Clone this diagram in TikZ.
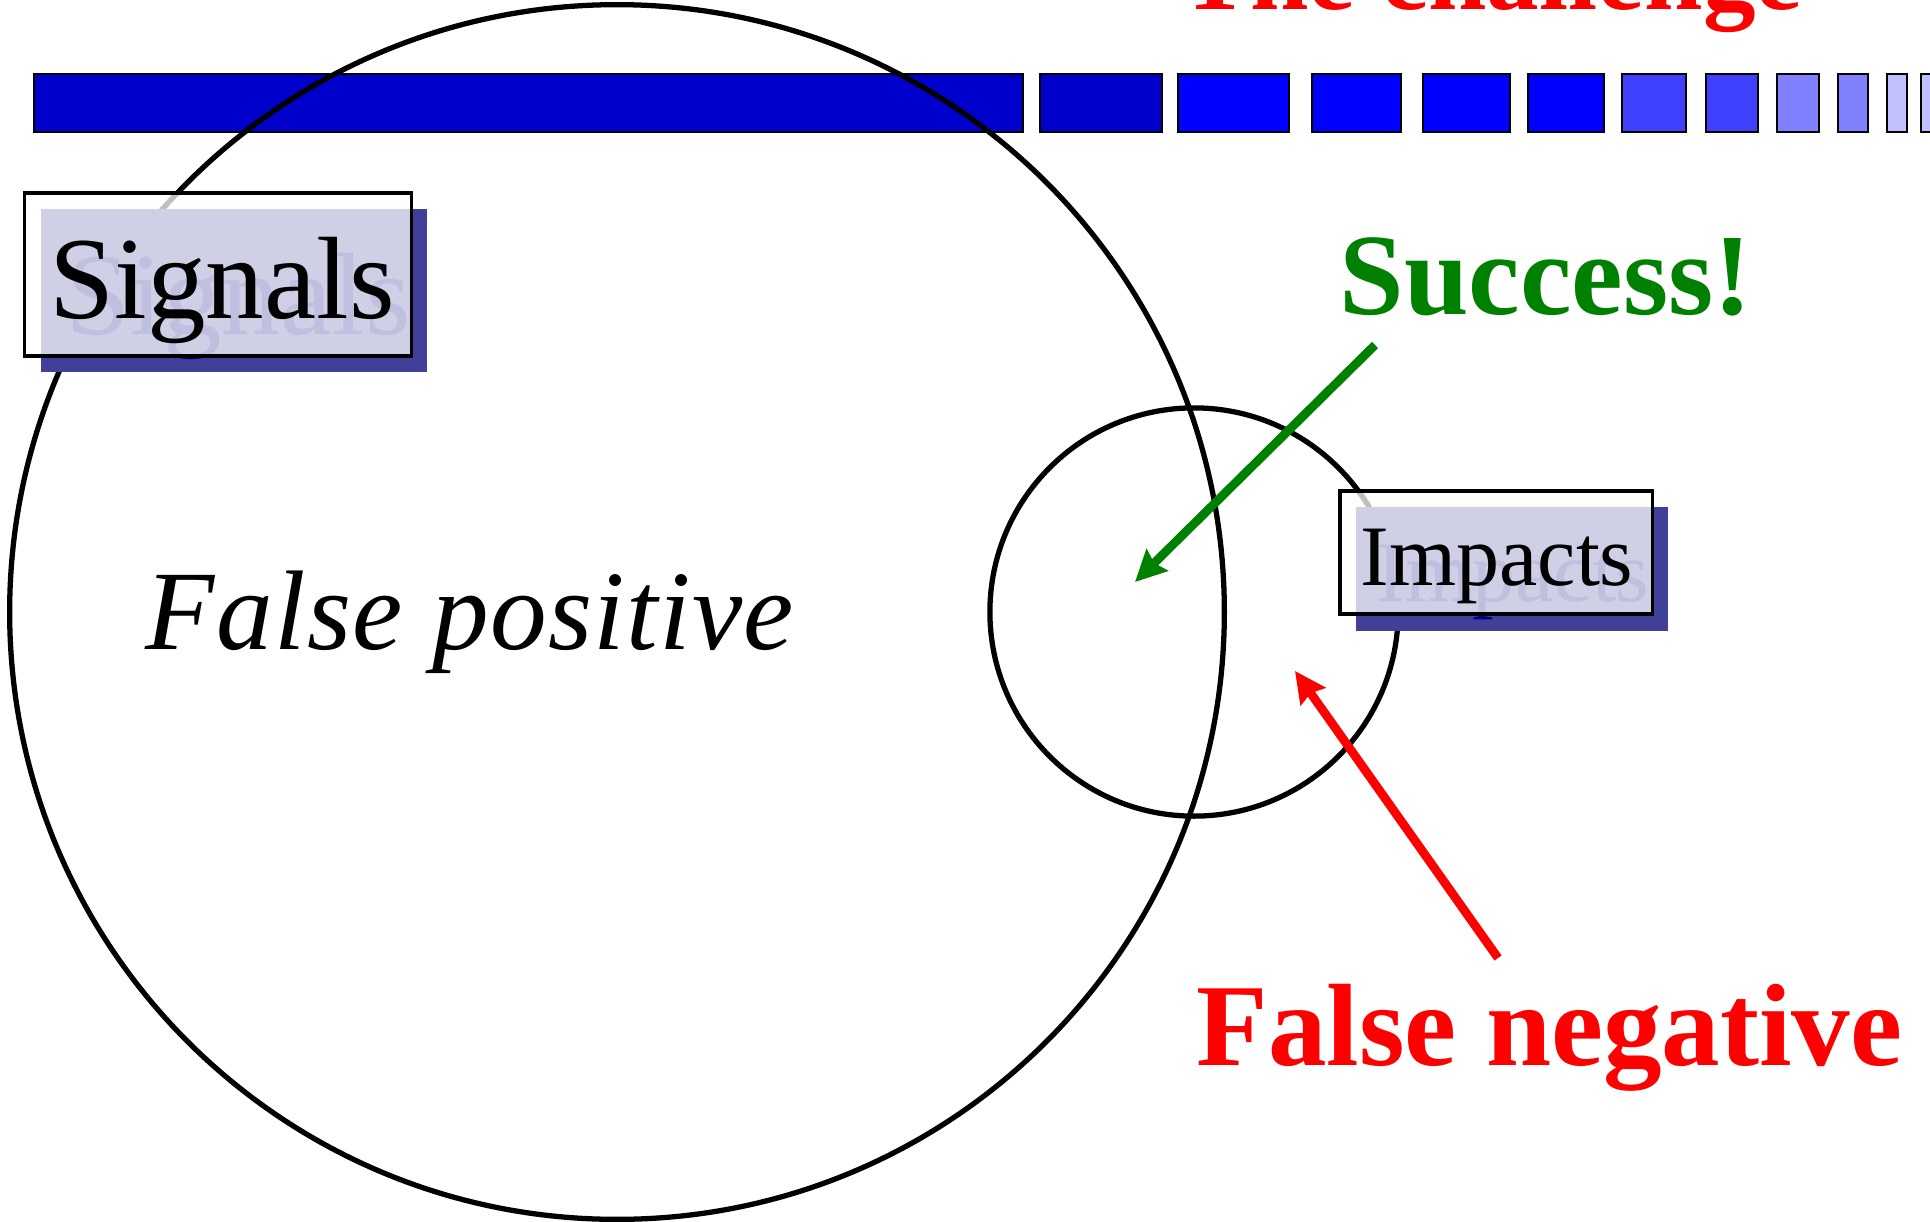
\documentclass[tikz,border=0pt]{standalone}
\usepackage{fontspec}
\setmainfont{Liberation Serif}
\definecolor{bardark}{RGB}{0,0,204}
\definecolor{barblue}{RGB}{0,0,255}
\definecolor{barmid}{RGB}{64,64,255}
\definecolor{barlight}{RGB}{128,128,255}
\definecolor{barpale}{RGB}{192,192,255}
\definecolor{shadowblue}{RGB}{64,64,152}
\definecolor{ghostblue}{RGB}{0,0,132}
\definecolor{okgreen}{RGB}{0,128,0}
\definecolor{badred}{RGB}{255,0,0}
\usetikzlibrary{arrows.meta,positioning}
\tikzset{
  segment/.style={draw=black,line width=0.8pt},
  ring/.style={draw=black,line width=1.5pt},
  labelbox/.style={draw=black,line width=0.9pt,fill=white,fill opacity=0.75,text opacity=1,inner sep=0pt},
  bigarrow/.style={line width=2.5pt,-{Stealth[length=0.31cm,width=0.3cm,inset=0.04cm]}},
}

\begin{document}
\begin{tikzpicture}[x=0.01cm,y=-0.01cm]
  \useasboundingbox (0,0) rectangle (1930,1221);
  % Title, cut at the top
  \node[anchor=base east,inner sep=0pt,badred,font=\fontsize{29.9pt}{32pt}\selectfont\bfseries] (title) at (1803,10) {The challenge};
  % Bar of segments
  \foreach \xa/\xb/\col in {
    34/1023/bardark,
    1040/1162/bardark,
    1178/1289/barblue,
    1312/1401/barblue,
    1423/1510/barblue,
    1528/1604/barblue,
    1622/1686/barmid,
    1706/1758/barmid,
    1777/1819/barlight,
    1838/1868/barlight,
    1887/1907/barpale,
    1921/1940/barpale}{
    \draw[segment,fill=\col] (\xa,74) rectangle (\xb,132);
  }
  % Sets
  \draw[ring] (617,612) circle[radius=6.07cm];
  \draw[ring] (1194,612) circle[radius=2.04cm];
  % Shadows of the labels
  \fill[shadowblue] (41,209) rectangle (427,372);
  \node[anchor=base west,inner sep=0pt,ghostblue,font=\fontsize{33.3pt}{36pt}\selectfont] (signalsghost) at (65,334) {Signals};
  \fill[shadowblue] (1356,507) rectangle (1668,631);
  \node[anchor=base west,inner sep=0pt,ghostblue,font=\fontsize{24.5pt}{27pt}\selectfont] (impactsghost) at (1376,601) {Impacts};
  % Labels
  \node[labelbox,minimum width=3.86cm,minimum height=1.63cm] (signals) at (218,274.5) {};
  \node[anchor=base west,inner sep=0pt,font=\fontsize{33.3pt}{36pt}\selectfont] (signalstext) at (49,318) {Signals};
  \node[labelbox,minimum width=3.12cm,minimum height=1.23cm] (impacts) at (1496,552.5) {};
  \node[anchor=base west,inner sep=0pt,font=\fontsize{24.5pt}{27pt}\selectfont] (impactstext) at (1360,585) {Impacts};
  % Region texts
  \node[anchor=base west,inner sep=0pt,font=\fontsize{32.2pt}{35pt}\selectfont\itshape\addfontfeatures{LetterSpace=1.2}] (falsepos) at (145,649) {False positive};
  \node[anchor=base west,inner sep=0pt,okgreen,font=\fontsize{33pt}{36pt}\selectfont\bfseries] (success) at (1339,314) {Success!};
  \node[anchor=base west,inner sep=0pt,badred,font=\fontsize{33.3pt}{36pt}\selectfont\bfseries] (falseneg) at (1196,1065) {False negative};
  % Pointers
  \coordinate (successtail) at (1375,345);
  \coordinate (successtip) at (1135,582);
  \coordinate (falsenegtail) at (1498,958);
  \coordinate (falsenegtip) at (1295,671);
  \draw[bigarrow,okgreen] (successtail) -- (successtip);
  \draw[bigarrow,badred] (falsenegtail) -- (falsenegtip);
\end{tikzpicture}
\end{document}
